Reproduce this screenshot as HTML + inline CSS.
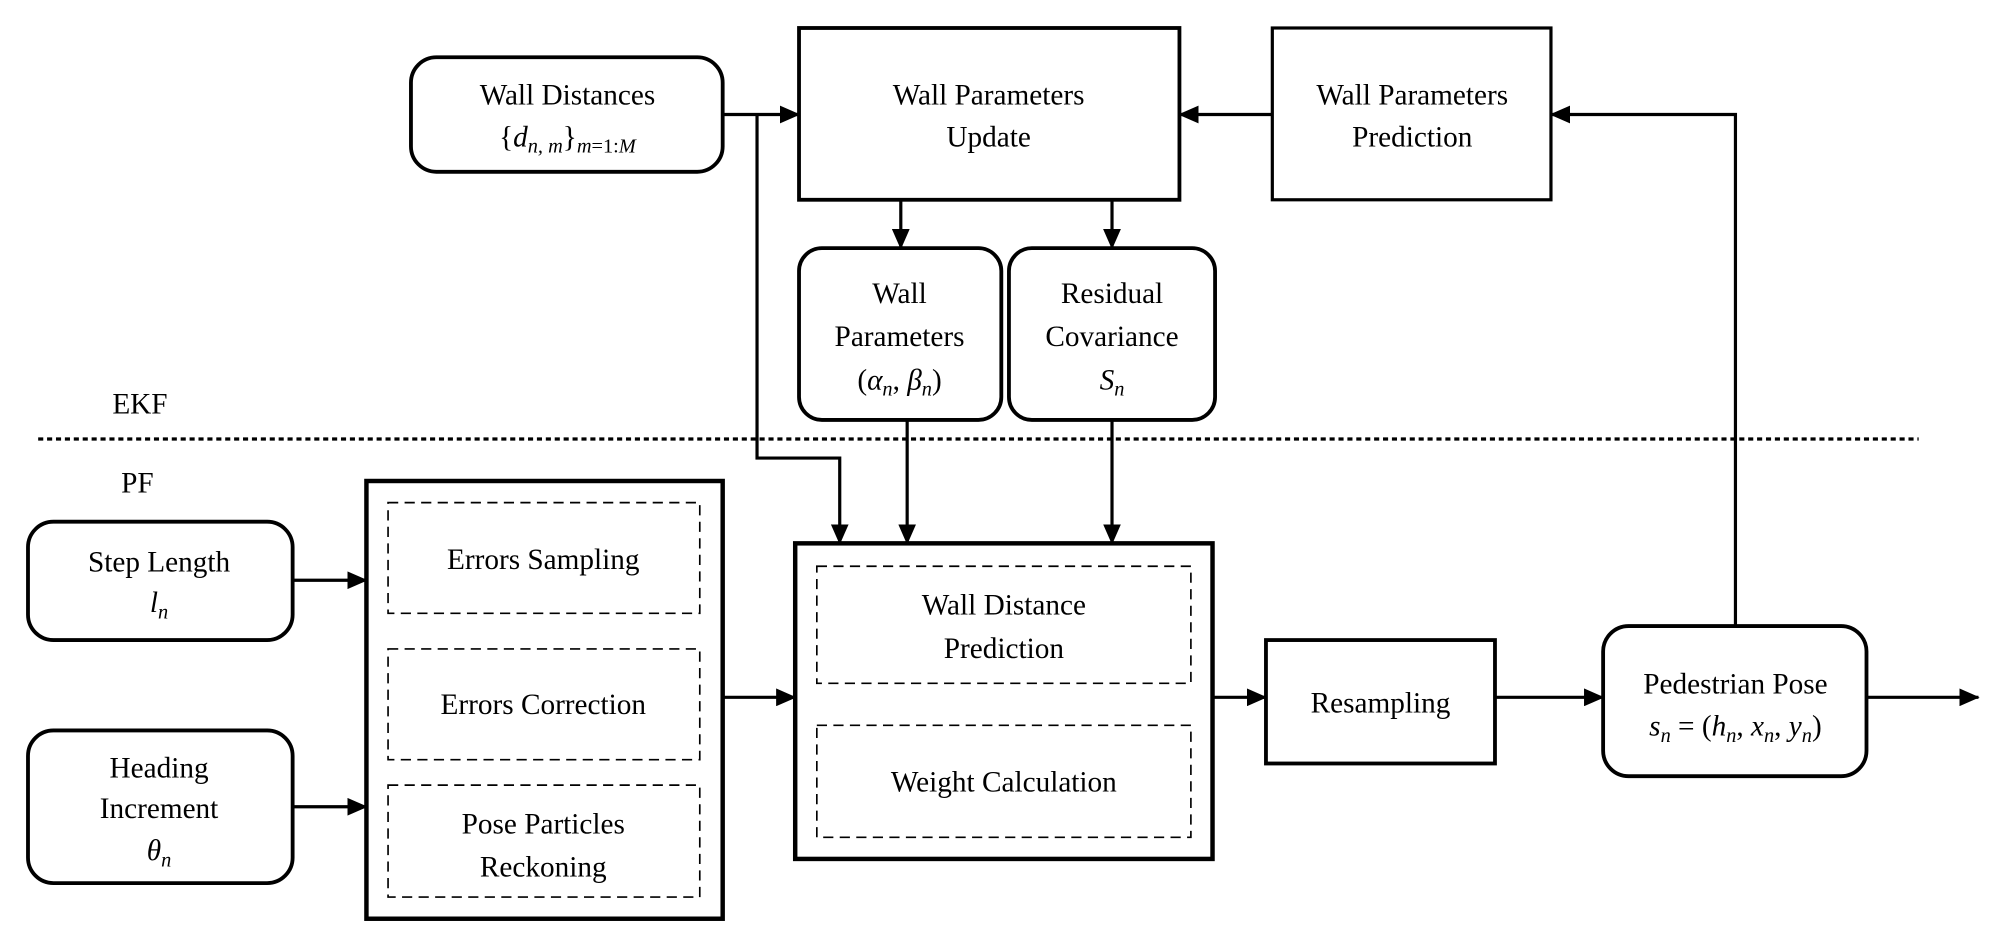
<!DOCTYPE html>
<html><head><meta charset="utf-8"><style>
html,body{margin:0;padding:0;background:#fff;}
svg{display:block;}
text{font-family:"Liberation Serif",serif;font-size:23px;fill:#000;text-anchor:middle;}
.i{font-style:italic;}
</style></head><body>
<svg width="1995" height="948" viewBox="0 0 1568 745" preserveAspectRatio="none" xmlns="http://www.w3.org/2000/svg">
<defs>
<marker id="a" markerWidth="16" markerHeight="14" refX="15" refY="7" orient="auto" markerUnits="userSpaceOnUse">
<path d="M0,0 L16,7 L0,14 Z" fill="#000"/></marker>
</defs>
<g fill="none" stroke="#000">
<rect x="323" y="45" width="245" height="90" rx="20" stroke-width="3"/>
<rect x="628" y="22" width="299" height="135" stroke-width="3"/>
<rect x="1000" y="22" width="219" height="135" stroke-width="2.5"/>
<rect x="628" y="195" width="159" height="135" rx="18" stroke-width="3"/>
<rect x="793" y="195" width="162" height="135" rx="18" stroke-width="3"/>
<rect x="625" y="427" width="328" height="248" stroke-width="3.5"/>
<rect x="642" y="445" width="294" height="92" stroke-width="1.3" stroke-dasharray="8,5"/>
<rect x="642" y="570" width="294" height="88" stroke-width="1.3" stroke-dasharray="8,5"/>
<rect x="288" y="378" width="280" height="344" stroke-width="3.5"/>
<rect x="305" y="395" width="245" height="87" stroke-width="1.3" stroke-dasharray="8,5"/>
<rect x="305" y="510" width="245" height="87" stroke-width="1.3" stroke-dasharray="8,5"/>
<rect x="305" y="617" width="245" height="88" stroke-width="1.3" stroke-dasharray="8,5"/>
<rect x="22" y="410" width="208" height="93" rx="20" stroke-width="3"/>
<rect x="22" y="574" width="208" height="120" rx="20" stroke-width="3"/>
<rect x="995" y="503" width="180" height="97" stroke-width="3"/>
<rect x="1260" y="492" width="207" height="118" rx="20" stroke-width="3"/>
<line x1="30" y1="345" x2="1508" y2="345" stroke-width="2.5" stroke-dasharray="4,3"/>
<g stroke-width="2.5">
<line x1="568" y1="90" x2="628" y2="90" marker-end="url(#a)"/>
<polyline points="595,90 595,360 660,360 660,427" marker-end="url(#a)"/>
<line x1="1000" y1="90" x2="927" y2="90" marker-end="url(#a)"/>
<polyline points="1364,492 1364,90 1219,90" marker-end="url(#a)"/>
<line x1="708" y1="157" x2="708" y2="195" marker-end="url(#a)"/>
<line x1="874" y1="157" x2="874" y2="195" marker-end="url(#a)"/>
<line x1="713" y1="330" x2="713" y2="427" marker-end="url(#a)"/>
<line x1="874" y1="330" x2="874" y2="427" marker-end="url(#a)"/>
<line x1="230" y1="456" x2="288" y2="456" marker-end="url(#a)"/>
<line x1="230" y1="634" x2="288" y2="634" marker-end="url(#a)"/>
<line x1="568" y1="548" x2="625" y2="548" marker-end="url(#a)"/>
<line x1="953" y1="548" x2="995" y2="548" marker-end="url(#a)"/>
<line x1="1175" y1="548" x2="1260" y2="548" marker-end="url(#a)"/>
<line x1="1467" y1="548" x2="1555" y2="548" marker-end="url(#a)"/>
</g>
</g>
<text x="446" y="82">Wall Distances</text>
<text x="446" y="115">{<tspan class="i">d</tspan><tspan class="i" font-size="16" dy="5">n, m</tspan><tspan dy="-5">}</tspan><tspan class="i" font-size="16" dy="5">m</tspan><tspan font-size="16">=1:</tspan><tspan class="i" font-size="16">M</tspan></text>
<text x="777" y="82">Wall Parameters</text>
<text x="777" y="115">Update</text>
<text x="1110" y="82">Wall Parameters</text>
<text x="1110" y="115">Prediction</text>
<text x="707" y="238">Wall</text>
<text x="707" y="272">Parameters</text>
<text x="707" y="306">(<tspan class="i">α</tspan><tspan class="i" font-size="16" dy="5">n</tspan><tspan dy="-5">, </tspan><tspan class="i">β</tspan><tspan class="i" font-size="16" dy="5">n</tspan><tspan dy="-5">)</tspan></text>
<text x="874" y="238">Residual</text>
<text x="874" y="272">Covariance</text>
<text x="874" y="306"><tspan class="i">S</tspan><tspan class="i" font-size="16" dy="5">n</tspan></text>
<text x="110" y="325" font-size="27">EKF</text>
<text x="108" y="387" font-size="27">PF</text>
<text x="125" y="449">Step Length</text>
<text x="125" y="481"><tspan class="i">l</tspan><tspan class="i" font-size="16" dy="5">n</tspan></text>
<text x="125" y="611">Heading</text>
<text x="125" y="643">Increment</text>
<text x="125" y="676"><tspan class="i">θ</tspan><tspan class="i" font-size="16" dy="5">n</tspan></text>
<text x="427" y="447">Errors Sampling</text>
<text x="427" y="561">Errors Correction</text>
<text x="427" y="655">Pose Particles</text>
<text x="427" y="689">Reckoning</text>
<text x="789" y="483">Wall Distance</text>
<text x="789" y="517">Prediction</text>
<text x="789" y="622">Weight Calculation</text>
<text x="1085" y="560">Resampling</text>
<text x="1364" y="545">Pedestrian Pose</text>
<text x="1364" y="578"><tspan class="i">s</tspan><tspan class="i" font-size="16" dy="5">n</tspan><tspan dy="-5"> = (</tspan><tspan class="i">h</tspan><tspan class="i" font-size="16" dy="5">n</tspan><tspan dy="-5">, </tspan><tspan class="i">x</tspan><tspan class="i" font-size="16" dy="5">n</tspan><tspan dy="-5">, </tspan><tspan class="i">y</tspan><tspan class="i" font-size="16" dy="5">n</tspan><tspan dy="-5">)</tspan></text>
</svg>
</body></html>
